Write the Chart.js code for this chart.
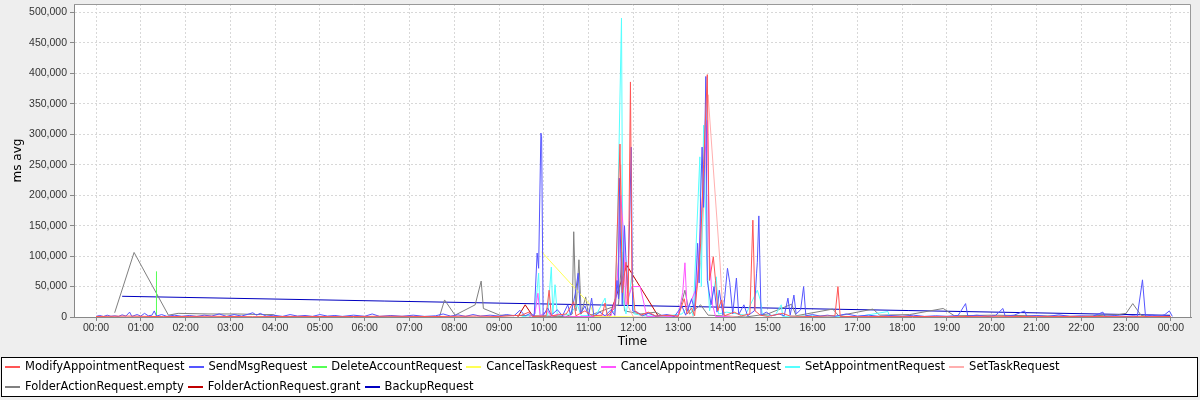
<!DOCTYPE html>
<html>
<head>
<meta charset="utf-8">
<script src="https://cdn.jsdelivr.net/npm/chart.js@4.4.1/dist/chart.umd.min.js"></script>
<style>
  html, body { margin: 0; padding: 0; background: #eeeeee; }
  #wrap { width: 1200px; height: 400px; }
</style>
</head>
<body>
<div id="wrap"><canvas id="graphique" width="1200" height="400"></canvas></div>
<script>
// tick labels
const timeTicks = ['00:00', '01:00', '02:00', '03:00', '04:00', '05:00', '06:00', '07:00', '08:00', '09:00', '10:00', '11:00', '12:00',
    '13:00', '14:00', '15:00', '16:00', '17:00', '18:00', '19:00', '20:00', '21:00', '22:00', '23:00', '24:00'];
const msTicks = [0, 50000, 100000, 150000, 200000, 250000, 300000, 350000, 400000, 450000, 500000];

// series (time of day, ms avg)
const modifyTimes = ['00:00', '00:40', '01:30', '02:30', '03:30', '04:30', '05:30', '06:30', '07:30', '08:30', '09:00', '09:30', '09:40', '09:45',
    '10:03', '10:07', '10:10', '10:30', '10:40', '10:43', '10:55', '11:05', '11:18', '11:22', '11:25', '11:35', '11:42', '11:45', '11:50', '11:53',
    '11:56', '11:58', '12:02', '12:10', '12:20', '12:30', '12:50', '13:00', '13:08', '13:12', '13:18', '13:22', '13:30', '13:34', '13:39', '13:42',
    '13:47', '13:50', '13:53', '13:58', '14:02', '14:15', '14:25', '14:36', '14:40', '14:43', '14:50', '15:00', '15:20', '15:30', '16:00', '16:30',
    '16:34', '16:37', '17:00', '18:00', '19:00', '20:00', '21:00', '22:00', '23:00', '24:00'];
const modifyValues = [800, 1500, 600, 1200, 500, 1000, 600, 1300, 700, 1500, 800, 3000, 8000, 1000,
    2000, 44000, 2000, 5000, 25000, 2000, 10000, 2000, 3000, 23000, 2000, 15000, 284000, 40000, 90000, 20000,
    386000, 60000, 10000, 3000, 8000, 1500, 3000, 1000, 30000, 5000, 15000, 2000, 120000, 250000, 398000, 60000,
    99000, 60000, 10000, 28000, 2000, 8000, 2000, 5000, 159000, 10000, 3000, 1000, 6000, 1500, 800, 2000,
    50000, 1000, 600, 1000, 500, 1200, 600, 900, 500, 800];

const sendMsgTimes = ['00:00', '00:05', '00:10', '00:15', '00:20', '00:25', '00:30', '00:35', '00:40', '00:45', '00:48', '00:55', '01:00', '01:05',
    '01:10', '01:15', '01:18', '01:21', '01:28', '01:35', '01:45', '01:55', '02:05', '02:15', '02:25', '02:35', '02:45', '02:55', '03:05', '03:15',
    '03:25', '03:30', '03:35', '03:40', '03:48', '03:58', '04:10', '04:20', '04:30', '04:40', '04:50', '05:00', '05:10', '05:20', '05:30', '05:45',
    '06:00', '06:10', '06:20', '06:35', '06:50', '07:05', '07:20', '07:35', '07:45', '07:55', '08:05', '08:15', '08:25', '08:35', '08:48', '09:00',
    '09:10', '09:20', '09:28', '09:35', '09:42', '09:47', '09:51', '09:53', '09:56', '09:57', '09:59', '10:05', '10:10', '10:18', '10:25', '10:32',
    '10:36', '10:42', '10:46', '10:49', '10:55', '11:00', '11:04', '11:07', '11:15', '11:22', '11:30', '11:35', '11:38', '11:40', '11:41', '11:43',
    '11:45', '11:48', '11:52', '11:55', '11:57', '11:59', '12:05', '12:12', '12:20', '12:30', '12:45', '12:55', '13:05', '13:10', '13:18', '13:22',
    '13:26', '13:28', '13:30', '13:32', '13:34', '13:37', '13:39', '13:44', '13:48', '13:52', '13:55', '14:00', '14:06', '14:09', '14:13', '14:18',
    '14:21', '14:28', '14:33', '14:42', '14:45', '14:46', '14:48', '14:51', '14:58', '15:05', '15:15', '15:22', '15:27', '15:30', '15:35', '15:38',
    '15:44', '15:48', '15:51', '16:00', '16:10', '16:20', '16:30', '16:45', '17:00', '17:15', '17:30', '17:45', '18:00', '18:15', '18:30', '18:45',
    '19:00', '19:15', '19:25', '19:28', '19:40', '19:55', '20:05', '20:15', '20:18', '20:30', '20:44', '20:47', '21:00', '21:15', '21:30', '21:45',
    '22:00', '22:15', '22:29', '22:32', '22:45', '23:00', '23:10', '23:15', '23:22', '23:26', '23:35', '23:45', '23:52', '23:58', '24:02'];
const sendMsgValues = [1000, 2500, 800, 3000, 1200, 2000, 900, 3500, 1500, 8000, 1000, 4000, 1500, 6000,
    2000, 3000, 10000, 1500, 4000, 1000, 3000, 1200, 2500, 1000, 3000, 1500, 5000, 1000, 4000, 1500,
    5000, 7000, 3000, 6000, 1500, 3000, 1000, 4000, 1500, 2500, 1000, 4000, 1500, 2500, 1000, 3000,
    1200, 5000, 1000, 2500, 1200, 3000, 1000, 2000, 5000, 1500, 3500, 1000, 4000, 1500, 3000, 1500,
    4000, 2000, 11000, 2000, 6000, 1500, 105000, 80000, 302000, 296000, 2000, 15000, 3000, 12000, 2000, 20000,
    3000, 38000, 72000, 5000, 18000, 2000, 31000, 1500, 8000, 2000, 12000, 3000, 60000, 30000, 228000, 105000,
    20000, 150000, 40000, 159000, 279000, 10000, 8000, 2000, 6000, 1500, 4000, 1000, 18000, 3000, 30000, 10000,
    121000, 56000, 197000, 279000, 180000, 395000, 60000, 20000, 50000, 8000, 44000, 3000, 80000, 57000, 5000, 64000,
    4000, 20000, 2000, 10000, 72000, 90000, 166000, 3000, 8000, 2000, 5000, 2000, 31000, 3000, 36000, 5000,
    12000, 50000, 2000, 4000, 1500, 3000, 1200, 5000, 1500, 3000, 1000, 2500, 1200, 3000, 1000, 2000,
    1200, 2500, 22000, 1500, 3000, 1000, 2500, 14000, 1500, 3000, 10000, 1000, 2500, 1000, 3500, 1000,
    2000, 1000, 8000, 1000, 2500, 1000, 2000, 1000, 61000, 1500, 3000, 1000, 4000, 10000, 1000];

const deleteAccountTimes = ['01:21', '01:21'];
const deleteAccountValues = [0, 75000];

const cancelTaskTimes = ['09:57', '11:02', '11:08', '11:50', '12:00'];
const cancelTaskValues = [107000, 20000, 500, 500, 0];

const cancelApptTimes = ['09:40', '09:48', '09:52', '09:55', '10:05', '10:10', '10:20', '10:30', '11:30', '11:36', '11:40', '11:43', '11:46',
    '11:50', '11:58', '12:09', '12:18', '12:40', '13:00', '13:06', '13:09', '13:12', '13:25', '13:30', '13:39', '13:42', '13:46', '13:50', '14:10'];
const cancelApptValues = [0, 5000, 39000, 2000, 10000, 1000, 5000, 0, 2000, 30000, 90000, 200000, 150000,
    20000, 50000, 50000, 1000, 0, 2000, 40000, 89000, 10000, 50000, 150000, 323000, 100000, 20000, 1000, 0];

const setApptTimes = ['09:30', '09:48', '09:53', '09:55', '10:05', '10:10', '10:12', '10:15', '10:18', '10:35', '10:45', '10:50', '11:10',
    '11:22', '11:25', '11:35', '11:38', '11:41', '11:44', '11:46', '11:50', '11:55', '11:58', '12:01', '12:15', '12:40', '13:05', '13:15',
    '13:20', '13:29', '13:31', '13:34', '13:38', '13:42', '13:51', '13:54', '14:05', '14:30', '14:46', '14:50', '14:53', '15:10', '15:18',
    '15:20', '16:00', '17:00', '17:41', '17:43', '18:30'];
const setApptValues = [0, 5000, 72000, 3000, 2000, 82000, 5000, 53000, 2000, 5000, 20000, 2000, 3000,
    31000, 2000, 10000, 115000, 300000, 491000, 30000, 5000, 40000, 72000, 5000, 2000, 1000, 5000, 20000,
    2000, 263000, 50000, 315000, 100000, 10000, 66000, 5000, 8000, 3000, 44000, 28000, 2000, 3000, 20000,
    1000, 2000, 500, 9000, 500, 0];

const setTaskTimes = ['11:35', '11:40', '11:43', '11:47', '11:52', '12:00', '13:20', '13:30', '13:35', '13:40', '13:56', '14:00', '14:20'];
const setTaskValues = [0, 100000, 250000, 70000, 20000, 0, 0, 90000, 200000, 365000, 89000, 2000, 0];

const emptyTimes = ['00:25', '00:51', '01:37', '01:50', '02:30', '03:10', '03:40', '03:57', '04:05', '07:40', '07:47', '08:01', '08:28', '08:36',
    '08:39', '09:01', '10:30', '10:38', '10:40', '10:43', '10:47', '10:50', '10:56', '11:00', '11:40', '11:45', '11:48', '12:10', '12:30', '12:40',
    '13:00', '13:09', '13:15', '13:30', '13:40', '14:30', '15:00', '15:32', '15:38', '16:27', '16:35', '17:21', '17:30', '18:10', '18:55', '19:10',
    '20:00', '21:00', '22:00', '22:50', '23:00', '23:09', '23:20', '23:30'];
const emptyValues = [7000, 106000, 3000, 6000, 5000, 5000, 4000, 4000, 0, 0, 28000, 3000, 20000, 59000,
    14000, 3000, 1000, 5000, 140000, 10000, 94000, 5000, 33000, 2000, 20000, 107000, 10000, 5000, 8000, 1000,
    2000, 44000, 5000, 20000, 3000, 0, 5000, 21000, 2000, 13000, 2000, 13000, 3000, 4000, 14000, 2000,
    3000, 2000, 1000, 4000, 6000, 22000, 3000, 0];

const grantTimes = ['09:25', '09:35', '09:46', '11:28', '11:33', '11:51', '12:34'];
const grantValues = [0, 20000, 0, 0, 20000, 85000, 0];

const backupTimes = ['00:35', '23:59'];
const backupValues = [34000, 2800];

const couleurs = ['#ff5555', '#5555ff', '#55ff55', '#ffff55', '#ff55ff', '#55ffff', '#ffafaf', '#808080', '#c00000', '#0000c0'];

function versMinutes(t) {
    const [h, m] = t.split(':').map(Number);
    return h * 60 + m;
}

function enHeure(min) {
    const m = ((Math.round(min) % 1440) + 1440) % 1440;
    return String(Math.floor(m / 60)).padStart(2, '0') + ':' + String(m % 60).padStart(2, '0');
}

function serie(label, couleur, times, values) {
    return {
        label: label,
        data: times.map((t, i) => ({ x: versMinutes(t), y: values[i] })),
        borderColor: couleur,
        backgroundColor: couleur,
        borderWidth: 1,
        pointRadius: 0,
        tension: 0,
    };
}

const datasets = [
    serie('ModifyAppointmentRequest', couleurs[0], modifyTimes, modifyValues),
    serie('SendMsgRequest', couleurs[1], sendMsgTimes, sendMsgValues),
    serie('DeleteAccountRequest', couleurs[2], deleteAccountTimes, deleteAccountValues),
    serie('CancelTaskRequest', couleurs[3], cancelTaskTimes, cancelTaskValues),
    serie('CancelAppointmentRequest', couleurs[4], cancelApptTimes, cancelApptValues),
    serie('SetAppointmentRequest', couleurs[5], setApptTimes, setApptValues),
    serie('SetTaskRequest', couleurs[6], setTaskTimes, setTaskValues),
    serie('FolderActionRequest.empty', couleurs[7], emptyTimes, emptyValues),
    serie('FolderActionRequest.grant', couleurs[8], grantTimes, grantValues),
    serie('BackupRequest', couleurs[9], backupTimes, backupValues),
];

// fond gris, zone du graphique blanche, cadre de la légende, marqueurs en trait
const cadre = {
    id: 'cadre',
    beforeDraw(chart) {
        const { ctx, chartArea: a } = chart;
        const lg = chart.legend;
        ctx.save();
        ctx.fillStyle = '#eeeeee';
        ctx.fillRect(0, 0, chart.width, chart.height);
        ctx.fillStyle = '#ffffff';
        ctx.fillRect(a.left, a.top, a.right - a.left, a.bottom - a.top);
        ctx.fillRect(1, lg.top + 2, 1197, 40);
        ctx.strokeStyle = '#000000';
        ctx.lineWidth = 1;
        ctx.strokeRect(1.5, lg.top + 2.5, 1196, 39);
        ctx.restore();
    },
    afterDraw(chart) {
        const { ctx, chartArea: a } = chart;
        ctx.save();
        ctx.setLineDash([]);
        ctx.globalAlpha = 1;
        ctx.lineWidth = 1;
        ctx.strokeStyle = '#999999';
        ctx.beginPath();
        ctx.moveTo(a.left, a.top + 0.5);
        ctx.lineTo(a.right - 0.5, a.top + 0.5);
        ctx.lineTo(a.right - 0.5, a.bottom);
        ctx.stroke();
        const boites = chart.legend.legendHitBoxes;
        for (let i = 0; i < boites.length; i++) {
            const b = boites[i];
            const y = Math.round(b.top + b.height / 2) - 1;
            ctx.fillStyle = couleurs[i];
            ctx.fillRect(Math.round(b.left), y, 15, 2);
        }
        ctx.restore();
    },
};

const tickFont = { family: 'Liberation Sans', size: 10.5 };
const titleFont = { family: 'DejaVu Sans', size: 12 };

new Chart(document.querySelector('#graphique'), {
    type: 'line',
    data: { datasets: datasets },
    plugins: [cadre],
    options: {
        responsive: false,
        animation: false,
        layout: { padding: { left: 1, right: 9, top: 4, bottom: -5 } },
        plugins: {
            tooltip: { enabled: false },
            legend: {
                position: 'bottom',
                align: 'start',
                labels: {
                    font: { family: 'DejaVu Sans', size: 11.5 },
                    color: '#000000',
                    boxWidth: 14,
                    boxHeight: 15.75,
                    padding: 4.25,
                    generateLabels(chart) {
                        return Chart.defaults.plugins.legend.labels.generateLabels(chart).map((it) => ({
                            ...it,
                            fillStyle: 'rgba(0,0,0,0)',
                            strokeStyle: 'rgba(0,0,0,0)',
                            lineWidth: 0,
                        }));
                    },
                },
            },
        },
        scales: {
            x: {
                type: 'linear',
                min: -29.5,
                max: 1467,
                afterBuildTicks: (axis) => {
                    axis.ticks = timeTicks.map((t) => ({ value: versMinutes(t) }));
                },
                afterFit: (axis) => {
                    axis.height = 38;
                    axis.paddingLeft = 0;
                    axis.paddingRight = 0;
                },
                ticks: {
                    autoSkip: false,
                    maxRotation: 0,
                    padding: 1,
                    color: '#333333',
                    font: tickFont,
                    callback: (v) => enHeure(v),
                },
                grid: { color: '#d8d8d8', tickColor: '#888888', tickLength: 4, tickBorderDash: [] },
                border: { color: '#888888', dash: [2, 2] },
                title: { display: true, text: 'Time', font: titleFont, color: '#000000', padding: { top: 0, bottom: 6 } },
            },
            y: {
                min: 0,
                max: 514000,
                afterBuildTicks: (axis) => {
                    axis.ticks = msTicks.map((v) => ({ value: v }));
                },
                afterFit: (axis) => {
                    axis.width = 73;
                    axis.paddingTop = 0;
                    axis.paddingBottom = 0;
                },
                ticks: {
                    padding: 3,
                    color: '#333333',
                    font: tickFont,
                    callback: (v) => v.toLocaleString('en-US'),
                },
                grid: { color: '#d8d8d8', tickColor: '#888888', tickLength: 4, tickBorderDash: [] },
                border: { color: '#888888', dash: [2, 2] },
                title: { display: true, text: 'ms avg', font: titleFont, color: '#000000', padding: { top: 10, bottom: 0 } },
            },
        },
    },
});
</script>
</body>
</html>
